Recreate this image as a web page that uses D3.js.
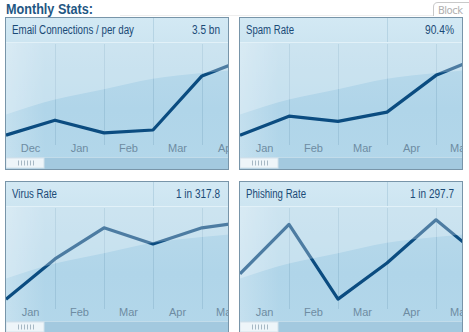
<!DOCTYPE html>
<html><head><meta charset="utf-8">
<script src="https://cdn.jsdelivr.net/npm/d3@7"></script>
<style>
html,body{margin:0;padding:0;background:#fff;}
svg{display:block;}
</style></head>
<body>
<script>
// ---- data ----
const pageTitle = "Monthly Stats:";
const panelTitles = ["Email Connections / per day", "Spam Rate", "Virus Rate", "Phishing Rate"];
const panelValues = ["3.5 bn", "90.4%", "1 in 317.8", "1 in 297.7"];
const monthsEmail = ["Dec", "Jan", "Feb", "Mar", "Apr"];
const monthsOther = ["Jan", "Feb", "Mar", "Apr", "May"];
const emailValues = [19, 32, 21, 23.5, 70.5, 87];
const spamValues = [19, 35.5, 31, 39, 71, 88.5];
const virusValues = [19, 54, 81, 67, 81, 87];
const phishingValues = [41, 84, 19, 50.5, 88, 53];
const glossLevels = [37, 50, 59, 68, 73, 77];

const W = 469, H = 332;
const PW = 224, PH = 153;
const panels = [
  {x: 5, y: 17, title: panelTitles[0], value: panelValues[0], months: monthsEmail, values: emailValues, tw: 122, vw: 28},
  {x: 239, y: 17, title: panelTitles[1], value: panelValues[1], months: monthsOther, values: spamValues, tw: 48, vw: 29},
  {x: 5, y: 181, title: panelTitles[2], value: panelValues[2], months: monthsOther, values: virusValues, tw: 45, vw: 44},
  {x: 239, y: 181, title: panelTitles[3], value: panelValues[3], months: monthsOther, values: phishingValues, tw: 60, vw: 44}
];

const svg = d3.select("body").append("svg").attr("width", W).attr("height", H);
const defs = svg.append("defs");
svg.append("rect").attr("width", W).attr("height", H).attr("fill", "#fff");

const bg = defs.append("linearGradient").attr("id", "bodyGrad").attr("x1", 0).attr("y1", 0).attr("x2", 0).attr("y2", 1);
bg.append("stop").attr("offset", "0%").attr("stop-color", "#bedcec");
bg.append("stop").attr("offset", "60%").attr("stop-color", "#b0d5e9");
bg.append("stop").attr("offset", "100%").attr("stop-color", "#b3d7ea");

const hg = defs.append("linearGradient").attr("id", "headGrad").attr("x1", 0).attr("y1", 0).attr("x2", 0).attr("y2", 1);
hg.append("stop").attr("offset", "0%").attr("stop-color", "#d3e9f4");
hg.append("stop").attr("offset", "100%").attr("stop-color", "#cde5f1");

const lg = defs.append("linearGradient").attr("id", "leftGrad").attr("x1", 0).attr("y1", 0).attr("x2", 1).attr("y2", 0);
lg.append("stop").attr("offset", "0%").attr("stop-color", "#fff").attr("stop-opacity", 0.25);
lg.append("stop").attr("offset", "100%").attr("stop-color", "#fff").attr("stop-opacity", 0);

// page title
svg.append("text").attr("x", 6).attr("y", 13.5)
  .attr("font-family", "'Liberation Sans', Arial, sans-serif")
  .attr("font-weight", "bold").attr("font-size", 14)
  .attr("textLength", 87).attr("lengthAdjust", "spacingAndGlyphs")
  .attr("fill", "#1f5783").text(pageTitle);

// Block tab
svg.append("line").attr("x1", 120).attr("x2", 433).attr("y1", 15.5).attr("y2", 15.5).attr("stroke", "#eeeeee");
svg.append("path").attr("d", "M433.5,16 V7 Q433.5,2.5 438,2.5 H470").attr("fill", "#fff").attr("stroke", "#c9c9c9");
svg.append("text").attr("x", 438).attr("y", 13.5).attr("font-family", "'DejaVu Sans', sans-serif").attr("font-size", 10)
  .attr("textLength", 25).attr("lengthAdjust", "spacing")
  .attr("fill", "#b0b0b0").text("Block");

const x = d3.scaleLinear().domain([0, 5]).range([1, 246]);
const y = d3.scaleLinear().domain([0, 100]).range([140, 25]);

panels.forEach((p, i) => {
  const cid = "clip" + i;
  defs.append("clipPath").attr("id", cid).append("rect").attr("x", 0).attr("y", 0).attr("width", PW).attr("height", PH);
  const outer = svg.append("g").attr("transform", `translate(${p.x},${p.y})`);
  const g = outer.append("g").attr("clip-path", `url(#${cid})`);

  g.append("rect").attr("width", PW).attr("height", PH).attr("fill", "url(#bodyGrad)");
  g.append("rect").attr("width", 40).attr("y", 25).attr("height", 115).attr("fill", "url(#leftGrad)");

  // grid lines
  g.selectAll("line.grid").data(d3.range(1, 5)).enter().append("line")
    .attr("x1", d => x(d) + 0.5).attr("x2", d => x(d) + 0.5)
    .attr("y1", 27).attr("y2", 128)
    .attr("stroke", "#95bdd4").attr("stroke-opacity", 0.7);

  // data line
  const line = d3.line().x((d, j) => x(j)).y(d => y(d));
  g.append("path").datum(p.values).attr("d", line)
    .attr("fill", "none").attr("stroke", "#0b4c80").attr("stroke-width", 3.2)
    .attr("stroke-linejoin", "round");

  // gloss overlay (drawn on top)
  const area = d3.area().x((d, j) => x(j)).y0(25).y1(d => y(d)).curve(d3.curveMonotoneX);
  g.append("path").datum(glossLevels).attr("d", area)
    .attr("fill", "#fff").attr("fill-opacity", 0.27);

  // header
  g.append("rect").attr("width", PW).attr("height", 25).attr("fill", "url(#headGrad)");
  g.append("line").attr("x1", 0).attr("x2", PW).attr("y1", 25.5).attr("y2", 25.5).attr("stroke", "#e2f1f8");
  g.append("line").attr("x1", 148.5).attr("x2", 148.5).attr("y1", 0).attr("y2", 25).attr("stroke", "#b6d4e4");

  g.append("text").attr("x", 7).attr("y", 17)
    .attr("font-family", "'Liberation Sans Narrow', 'Liberation Sans', Arial, sans-serif")
    .attr("font-size", 12.5).attr("fill", "#1a4a76")
    .attr("textLength", p.tw).attr("lengthAdjust", "spacingAndGlyphs").text(p.title);
  g.append("text").attr("x", 215 - p.vw).attr("y", 17)
    .attr("font-family", "'Liberation Sans Narrow', 'Liberation Sans', Arial, sans-serif")
    .attr("font-size", 12.5).attr("fill", "#1a4a76")
    .attr("textLength", p.vw).attr("lengthAdjust", "spacingAndGlyphs").text(p.value);

  // month axis
  const band = d3.scaleBand().domain(p.months).range([1, 246]);
  const ax = g.append("g").attr("transform", "translate(0,135)")
    .call(d3.axisBottom(band).tickSize(0).tickPadding(0));
  ax.select(".domain").remove();
  ax.selectAll("text").attr("dy", 0).attr("y", 0)
    .attr("font-family", "'Liberation Sans', Arial, sans-serif")
    .attr("font-size", 11).attr("fill", "#6e8ca2");

  // scrollbar
  g.append("rect").attr("x", 0).attr("y", 140).attr("width", PW).attr("height", 13).attr("fill", "#a3c9df");
  g.append("line").attr("x1", 0).attr("x2", PW).attr("y1", 140.5).attr("y2", 140.5).attr("stroke", "#c2dcea");
  g.append("rect").attr("x", 1).attr("y", 141).attr("width", 38).attr("height", 10).attr("fill", "#eef5f9").attr("stroke", "#d3e2eb");
  g.selectAll("line.grip").data(d3.range(6)).enter().append("line")
    .attr("x1", d => 13.5 + d * 3).attr("x2", d => 13.5 + d * 3)
    .attr("y1", 143.5).attr("y2", 148.5).attr("stroke", "#a7b8c4");

  // border
  outer.append("rect").attr("x", 0.5).attr("y", 0.5).attr("width", PW - 1).attr("height", PH - 1)
    .attr("fill", "none").attr("stroke", "#7895a9");
});
</script>
</body></html>
